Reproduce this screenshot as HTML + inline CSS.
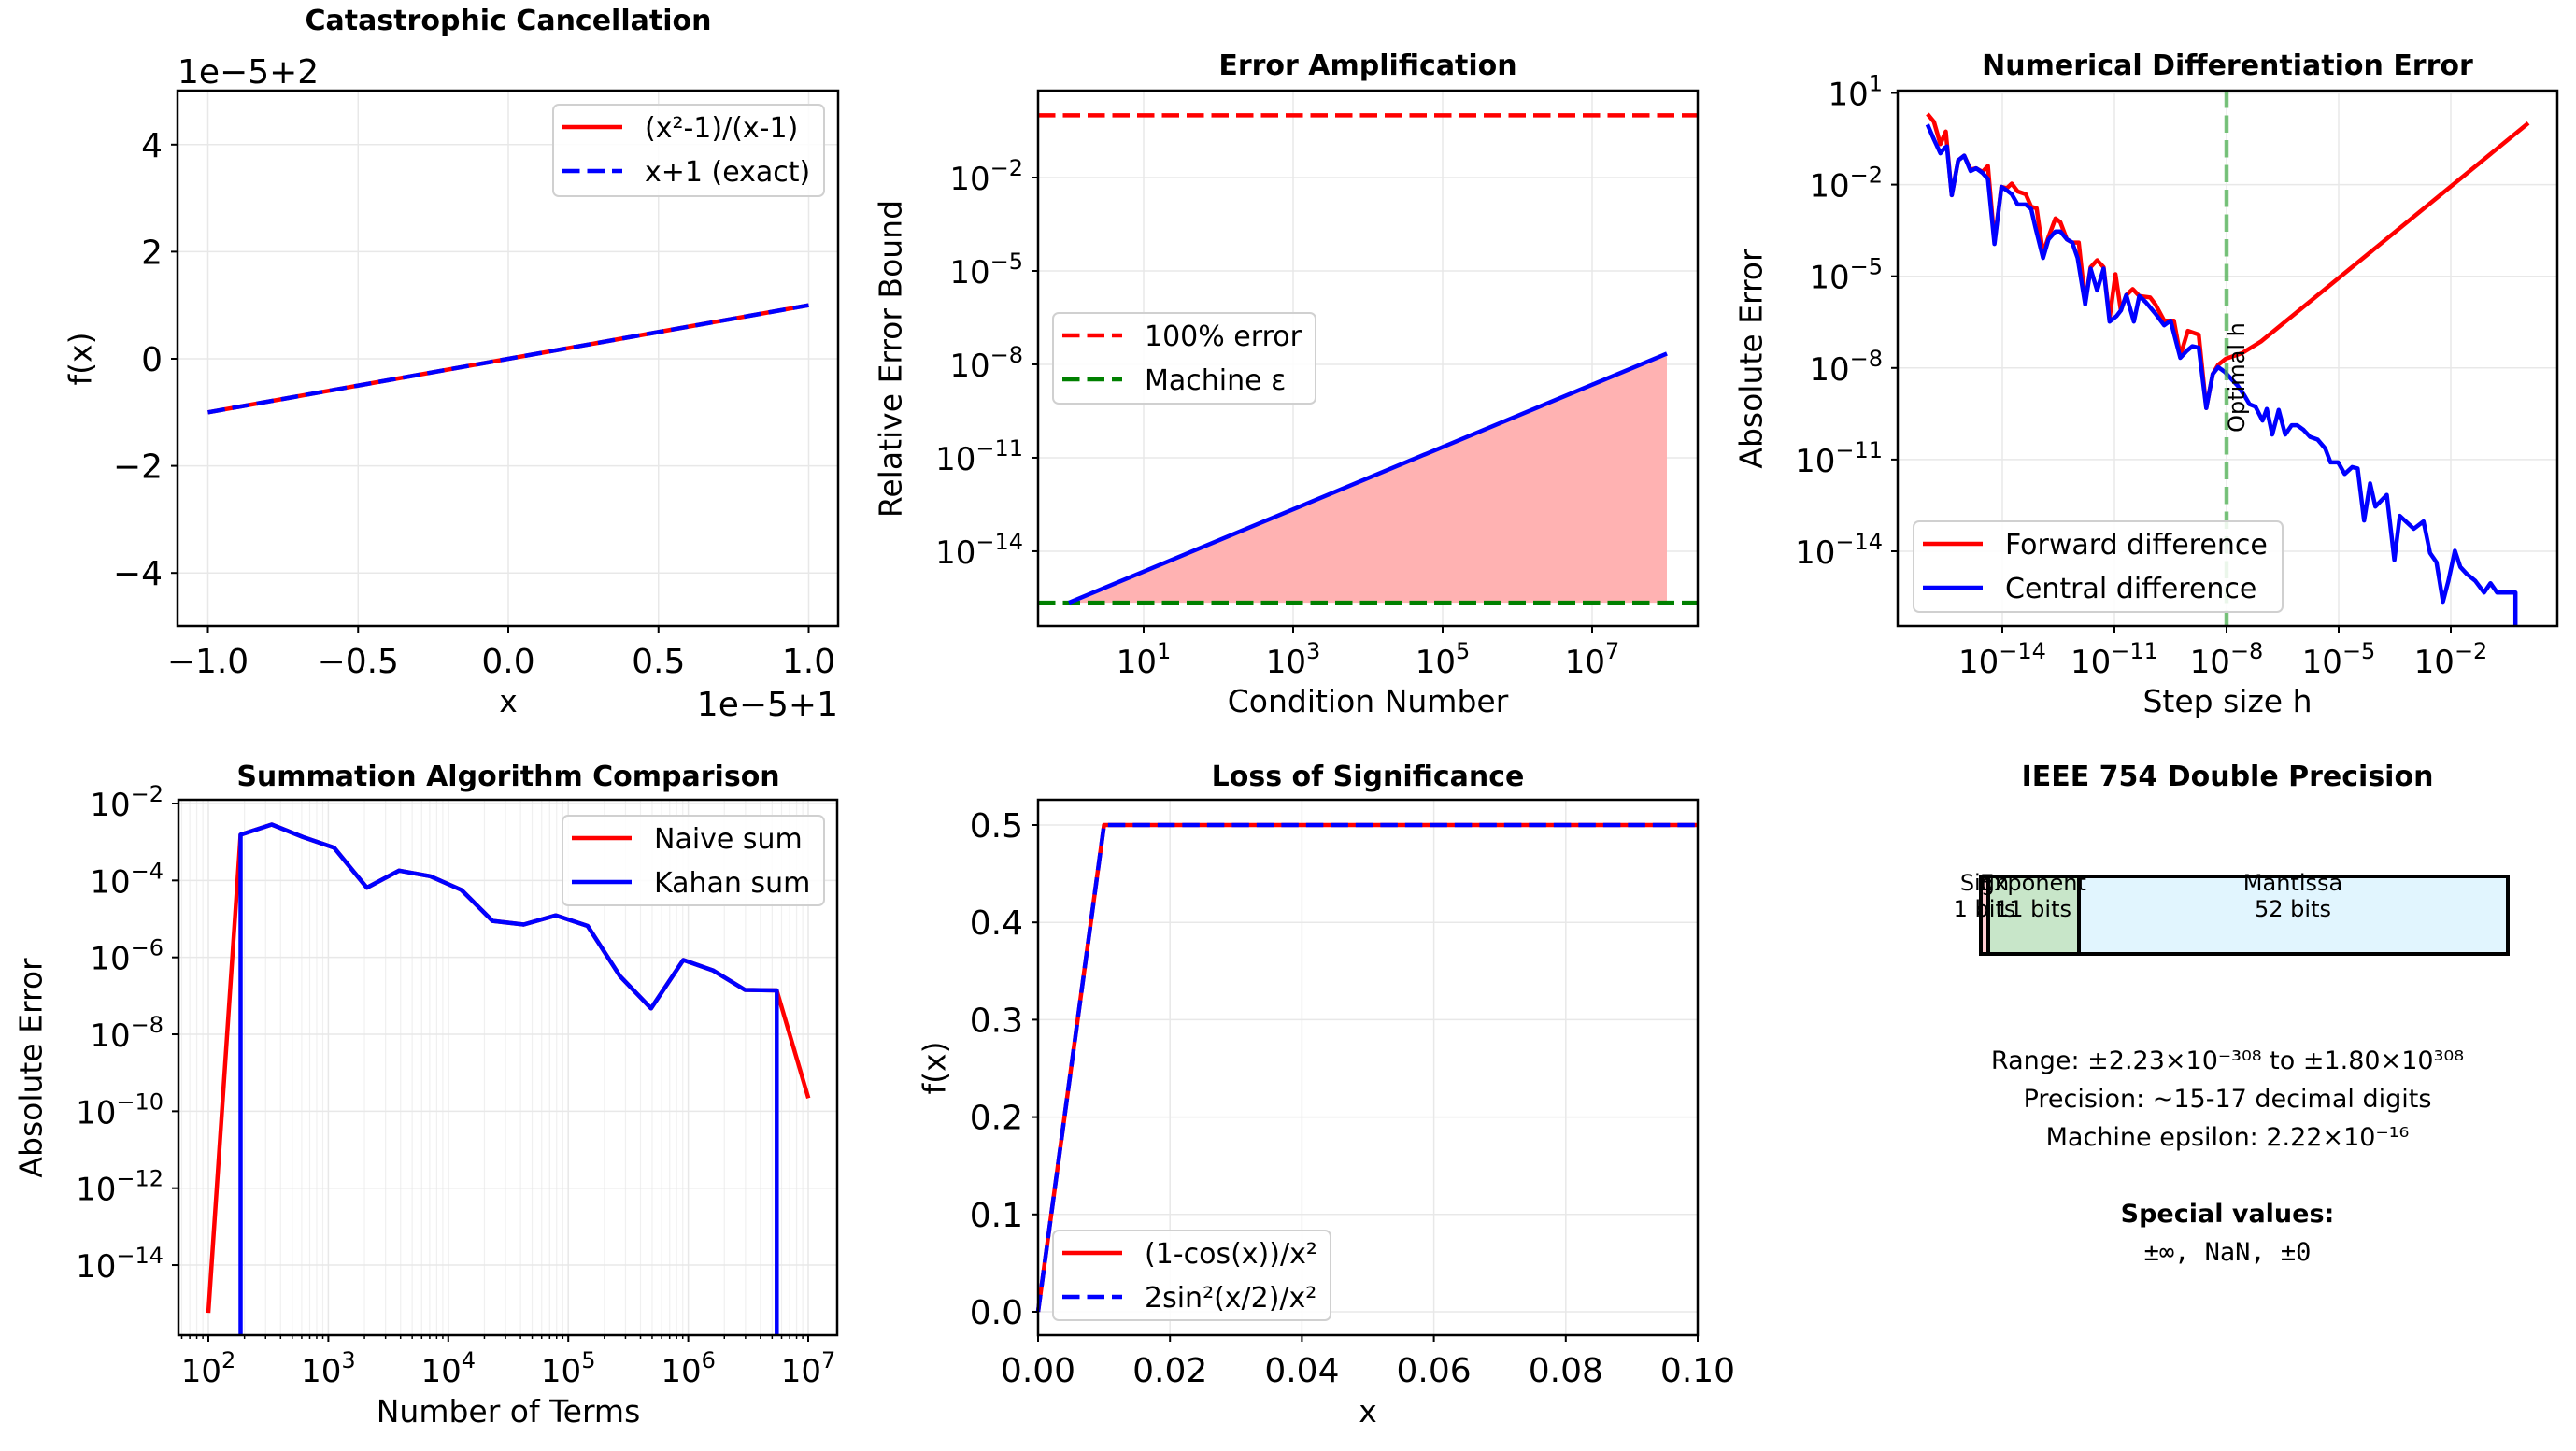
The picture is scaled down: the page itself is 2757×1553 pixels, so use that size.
<!DOCTYPE html>
<html><head><meta charset="utf-8"><style>
html,body{margin:0;padding:0;background:#fff}
svg{display:block}
text{font-family:"DejaVu Sans","Liberation Sans",sans-serif;fill:#000}
</style></head><body>
<svg id="s" width="2757" height="1553" viewBox="0 0 2757 1553" xmlns="http://www.w3.org/2000/svg"></svg>
<script>
const S=document.getElementById('s');let H='';
function T(x,y,s,fs,anc,extra){H+=`<text x="${x}" y="${y}" font-size="${fs}" text-anchor="${anc||'start'}" ${extra||''}>${s}</text>`;}
function L(x1,y1,x2,y2,c,w,extra){H+=`<line x1="${x1}" y1="${y1}" x2="${x2}" y2="${y2}" stroke="${c}" stroke-width="${w}" ${extra||''}/>`;}
function P(pts,c,w,extra){H+=`<polyline points="${pts.map(p=>p.join(',')).join(' ')}" fill="none" stroke="${c}" stroke-width="${w}" stroke-linejoin="round" ${extra||''}/>`;}
const G='#e8e8e8';
function box(l,t,r,b){H+=`<rect x="${l}" y="${t}" width="${r-l}" height="${b-t}" fill="none" stroke="#000" stroke-width="2.5"/>`;}
function xt(x,b,lab){L(x,b,x,b+7,'#000',2);if(lab!==null)T(x,b+50,lab,36,'middle');}
function yt(y,l,lab){L(l-7,y,l,y,'#000',2);if(lab!==null)T(l-16,y+13,lab,36,'end');}
function logx(x,b,e){L(x,b,x,b+7,'#000',2);H+=`<text x="${x}" y="${b+50}" font-size="34" text-anchor="middle">10<tspan font-size="24" dy="-15">${e}</tspan></text>`;}
function logy(y,l,e){L(l-7,y,l,y,'#000',2);H+=`<text x="${l-16}" y="${y+13}" font-size="34" text-anchor="end">10<tspan font-size="24" dy="-15">${e}</tspan></text>`;}
function legend(x1,y1,x2,y2,items,tx){H+=`<rect x="${x1}" y="${y1}" width="${x2-x1}" height="${y2-y1}" rx="6" fill="#fff" fill-opacity="0.85" stroke="#d0d0d0" stroke-width="2"/>`;
 items.forEach((it,i)=>{const cy=y1+24+i*47;L(x1+10,cy,x1+74,cy,it[0],4.5,it[2]?'stroke-dasharray="18.5 8"':'');T(x1+tx,cy+11,it[1],30,'start');});}
function title(cx,cy,s){T(cx,cy+10,s,30,'middle','font-weight="bold"');}
function ylab(x,y,s){T(x,y,s,33,'middle',`transform="rotate(-90 ${x} ${y})" dominant-baseline="central"`);}
const mi='−';

// ===== Panel 1 =====
{const l=190,r=897,t=97,b=670;
 const X=v=>544+v*321.5, Y=v=>384-v*57.3;
 [-1,-0.5,0,0.5,1].forEach(v=>L(X(v),t,X(v),b,G,1.5));
 [4,2,0,-2,-4].forEach(v=>L(l,Y(v),r,Y(v),G,1.5));
 L(X(-1),Y(-1),X(1),Y(1),'#ff0000',4.5);
 L(X(-1),Y(-1),X(1),Y(1),'#0000ff',4.5,'stroke-dasharray="18.5 8"');
 box(l,t,r,b);
 [[-1,mi+'1.0'],[-0.5,mi+'0.5'],[0,'0.0'],[0.5,'0.5'],[1,'1.0']].forEach(a=>xt(X(a[0]),b,a[1]));
 [[4,'4'],[2,'2'],[0,'0'],[-2,mi+'2'],[-4,mi+'4']].forEach(a=>yt(Y(a[0]),l,a[1]));
 T(l,89,'1e'+mi+'5+2',36,'start');T(r,766,'1e'+mi+'5+1',36,'end');
 T(544,762,'x',33,'middle');ylab(86,384,'f(x)');title(544,22,'Catastrophic Cancellation');
 legend(592,112,882,210,[['#ff0000','(x²-1)/(x-1)',0],['#0000ff','x+1 (exact)',1]],98);
}
// ===== Panel 2 =====
{const l=1111,r=1817,t=97,b=670;
 const X=e=>1144+e*80, Y=e=>190-(e+2)*33.33;
 [1,3,5,7].forEach(e=>L(X(e),t,X(e),b,G,1.5));
 [-2,-5,-8,-11,-14].forEach(e=>L(l,Y(e),r,Y(e),G,1.5));
 const eps=Math.log10(2.22e-16);
 H+=`<polygon points="${X(0)},${Y(eps)} ${X(8)},${Y(eps+8)} ${X(8)},${Y(eps)}" fill="#ffb2b2"/>`;
 L(l,Y(0),r,Y(0),'#ff0000',4.5,'stroke-dasharray="18.5 8"');
 L(l,Y(eps),r,Y(eps),'#008000',4.5,'stroke-dasharray="18.5 8"');
 L(X(0),Y(eps),X(8),Y(eps+8),'#0000ff',4.5);
 box(l,t,r,b);
 [1,3,5,7].forEach(e=>logx(X(e),b,e));
 [-2,-5,-8,-11,-14].forEach(e=>logy(Y(e),l,mi+(-e)));
 T(1464,762,'Condition Number',33,'middle');ylab(953,384,'Relative Error Bound');title(1464,70,'Error Amplification');
 legend(1127,335,1408,432,[['#ff0000','100% error',1],['#008000','Machine ε',1]],98);
}
// ===== Panel 3 =====
{const l=2031,r=2737,t=97,b=670;
 const X=e=>2383+(e+8)*40, Y=e=>99.5-(e-1)*32.7;
 [-14,-11,-8,-5,-2].forEach(e=>L(X(e),t,X(e),b,G,1.5));
 [1,-2,-5,-8,-11,-14].forEach(e=>L(l,Y(e),r,Y(e),G,1.5));
 const zx=v=>1850+v*0.5784, zy=v=>v*0.4974;
 const blue=[[368,268],[380,300],[392,330],[400,318],[404,315],[413,420],[425,345],[436,335],[448,368],[458,362],[470,372],[480,385],[492,525],[505,402],[515,410],[524,418],[535,440],[550,440],[560,450],[568,490],[582,555],[592,515],[605,498],[614,498],[626,515],[636,522],[646,555],[660,655],[670,578],[682,625],[694,578],[705,692],[718,680],[726,668],[736,635],[750,692],[760,637],[772,650],[790,675],[806,700],[818,690],[836,770],[848,755],[858,745],[870,748],[884,878],[896,805],[906,790],[918,800],[930,815],[942,830],[954,850],[964,870],[975,875],[988,905],[996,880],[1006,935],[1018,882],[1030,935],[1042,915],[1052,915],[1064,925],[1076,940],[1090,946],[1104,965],[1114,995],[1128,995],[1140,1020],[1154,1005],[1164,1008],[1176,1120],[1187,1040],[1197,1090],[1218,1065],[1232,1205],[1242,1110],[1256,1125],[1268,1138],[1286,1122],[1298,1190],[1310,1210],[1322,1295],[1332,1250],[1344,1185],[1354,1220],[1366,1235],[1382,1250],[1398,1275],[1410,1255],[1422,1275],[1456,1275],[1456,1345]];
 const red=[[368,245],[380,262],[392,310],[402,283],[413,420],[425,345],[436,335],[448,365],[458,362],[470,370],[480,357],[492,520],[505,402],[515,405],[524,395],[535,412],[550,418],[560,445],[570,448],[582,545],[592,510],[605,470],[614,478],[626,515],[636,522],[648,522],[660,650],[670,575],[682,560],[694,575],[705,685],[716,590],[726,668],[736,635],[748,622],[760,637],[780,640],[790,655],[806,690],[824,690],[836,765],[850,712],[870,720],[884,878],[896,805],[906,785],[920,772],[950,760],[985,735],[1480,265]];
 P(red.map(p=>[zx(p[0]).toFixed(1),zy(p[1]).toFixed(1)]),'#ff0000',4.5);
 P(blue.map(p=>[zx(p[0]).toFixed(1),zy(p[1]).toFixed(1)]),'#0000ff',4.5);
 L(X(-8),t,X(-8),b,'#4caf50',4.5,'stroke-dasharray="18.5 8" stroke-opacity="0.75"');
 T(2394,404,'Optimal h',24,'middle',`transform="rotate(-90 2394 404)" dominant-baseline="central"`);
 box(l,t,r,b);
 [-14,-11,-8,-5,-2].forEach(e=>logx(X(e),b,mi+(-e)));
 [1,-2,-5,-8,-11,-14].forEach(e=>logy(Y(e),l,e>0?e:mi+(-e)));
 T(2384,762,'Step size h',33,'middle');ylab(1874,384,'Absolute Error');title(2384,70,'Numerical Differentiation Error');
 legend(2048,558,2443,655,[['#ff0000','Forward difference',0],['#0000ff','Central difference',0]],98);
}
// ===== Panel 4 =====
{const l=191,r=896,t=856,b=1429;
 const X=e=>223+(e-2)*128.4, Y=e=>860-(e+2)*41.17;
 for(let d=1;d<=7;d++)for(let m=2;m<=9;m++){const e=d+Math.log10(m);if(e>1.75&&e<7.24){L(X(e),t,X(e),b,'#f0f0f0',1.2);}}
 [2,3,4,5,6,7].forEach(e=>L(X(e),t,X(e),b,G,1.5));
 [-2,-4,-6,-8,-10,-12,-14].forEach(e=>L(l,Y(e),r,Y(e),G,1.5));
 const zx=v=>v*0.6059, zy=v=>780+v*0.493;
 const core=[[425,230],[480,208],[535,235],[590,258],[648,345],[705,308],[760,320],[815,350],[870,417],[925,425],[982,405],[1038,428],[1095,537],[1150,607],[1207,502],[1260,525],[1316,567],[1372,568]];
 const red=[[368,1268]].concat(core,[[1428,802]]);
 const blue=[[425,1317]].concat(core,[[1372,1317]]);
 P(red.map(p=>[zx(p[0]).toFixed(1),zy(p[1]).toFixed(1)]),'#ff0000',4.5);
 P(blue.map(p=>[zx(p[0]).toFixed(1),zy(p[1]).toFixed(1)]),'#0000ff',4.5);
 box(l,t,r,b);
 for(let d=1;d<=7;d++)for(let m=2;m<=9;m++){const e=d+Math.log10(m);if(e>1.75&&e<7.24)L(X(e),b,X(e),b+4,'#000',1.5);}
 [2,3,4,5,6,7].forEach(e=>logx(X(e),b,e));
 [-2,-4,-6,-8,-10,-12,-14].forEach(e=>logy(Y(e),l,mi+(-e)));
 T(544,1522,'Number of Terms',33,'middle');ylab(33,1143,'Absolute Error');title(544,831,'Summation Algorithm Comparison');
 legend(602,873,882,969,[['#ff0000','Naive sum',0],['#0000ff','Kahan sum',0]],98);
}
// ===== Panel 5 =====
{const l=1111,r=1817,t=856,b=1429;
 const X=v=>1111+v*7060, Y=v=>1404-v*1042;
 [0.02,0.04,0.06,0.08].forEach(v=>L(X(v),t,X(v),b,G,1.5));
 [0,0.1,0.2,0.3,0.4,0.5].forEach(v=>L(l,Y(v),r,Y(v),G,1.5));
 const pts=[[X(0),Y(0)],[X(0.01),Y(0.5)],[X(0.1),Y(0.5)]];
 P(pts,'#ff0000',4.5);P(pts,'#0000ff',4.5,'stroke-dasharray="18.5 8"');
 box(l,t,r,b);
 ['0.00','0.02','0.04','0.06','0.08','0.10'].forEach((s,i)=>xt(X(i*0.02),b,s));
 ['0.0','0.1','0.2','0.3','0.4','0.5'].forEach((s,i)=>yt(Y(i*0.1),l,s));
 T(1464,1522,'x',33,'middle');ylab(1000,1143,'f(x)');title(1464,831,'Loss of Significance');
 legend(1127,1317,1424,1413,[['#ff0000','(1-cos(x))/x²',0],['#0000ff','2sin²(x/2)/x²',1]],98);
}
// ===== Panel 6 =====
{title(2384,831,'IEEE 754 Double Precision');
 H+=`<rect x="2120" y="938" width="8" height="83" fill="#ffcdd2" stroke="#000" stroke-width="4"/>`;
 H+=`<rect x="2128" y="938" width="97" height="83" fill="#c8e6c9" stroke="#000" stroke-width="4"/>`;
 H+=`<rect x="2225" y="938" width="459" height="83" fill="#e1f5fe" stroke="#000" stroke-width="4"/>`;
 T(2124,953,'Sign',24,'middle');T(2124,981,'1 bits',24,'middle');
 T(2176,953,'Exponent',24,'middle');T(2176,981,'11 bits',24,'middle');
 T(2454,953,'Mantissa',24,'middle');T(2454,981,'52 bits',24,'middle');
 T(2384,1144,'Range: ±2.23×10⁻³⁰⁸ to ±1.80×10³⁰⁸',27,'middle');
 T(2384,1185,'Precision: ~15-17 decimal digits',27,'middle');
 T(2384,1226,'Machine epsilon: 2.22×10⁻¹⁶',27,'middle');
 T(2384,1308,'Special values:',27,'middle','font-weight="bold"');
 T(2384,1349,'±∞, NaN, ±0',27,'middle','style="font-family:\'DejaVu Sans Mono\',\'Liberation Mono\',monospace"');
}
S.innerHTML=H;
</script>
</body></html>
